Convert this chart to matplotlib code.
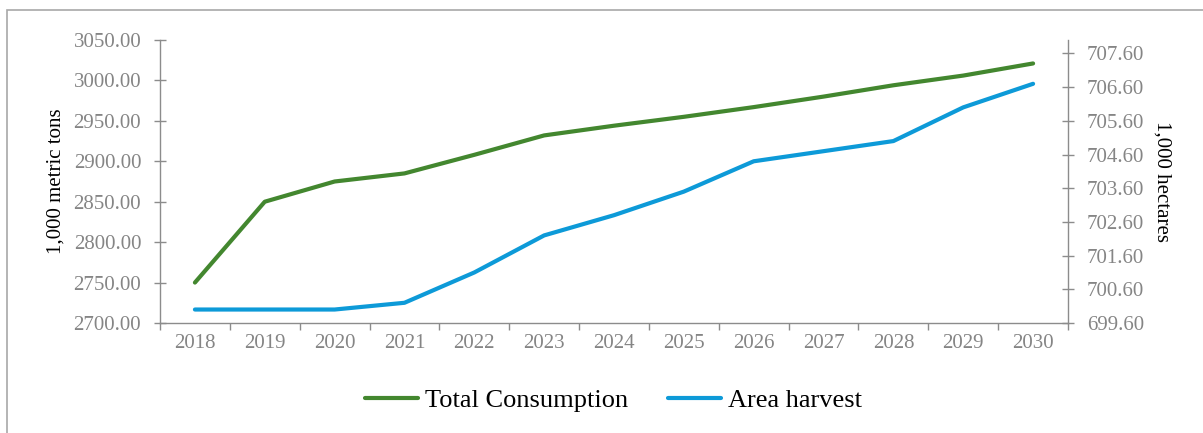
import matplotlib
matplotlib.use("Agg")
import matplotlib.pyplot as plt
from matplotlib.patches import Rectangle
from matplotlib.ticker import FixedLocator, FormatStrFormatter

plt.rcParams['font.family'] = ['Liberation Serif', 'DejaVu Serif']

years = ['2018', '2019', '2020', '2021', '2022', '2023', '2024',
         '2025', '2026', '2027', '2028', '2029', '2030']
total_consumption = [2750, 2850, 2875, 2885, 2908, 2932, 2944,
                     2955, 2967, 2980, 2994, 3006, 3021]
area_harvest = [700.0, 700.0, 700.0, 700.2, 701.1, 702.2, 702.8,
                703.5, 704.4, 704.7, 705.0, 706.0, 706.7]
left_ticks = [2700, 2750, 2800, 2850, 2900, 2950, 3000, 3050]
right_ticks = [699.6, 700.6, 701.6, 702.6, 703.6, 704.6, 705.6, 706.6, 707.6]

GREEN = '#43872F'
BLUE = '#0D9AD8'
AXIS = '#8C8C8C'
TICKTXT = '#858585'

W, H = 1203, 433
fig = plt.figure(figsize=(W / 100, H / 100), dpi=100)
fig.patch.set_facecolor('white')

# outer chart frame
fig.patches.append(Rectangle((7 / W, -0.2), 1.2, 1.2 - 10 / H,
                             transform=fig.transFigure, fill=False,
                             edgecolor='#A8A8A8', linewidth=1.2))

ax = fig.add_axes([160 / W, 1 - 323 / H, (1068 - 160) / W, (323 - 40) / H])
ax2 = ax.twinx()

x = list(range(len(years)))
l1, = ax.plot(x, total_consumption, color=GREEN, lw=3.0,
              solid_capstyle='round', solid_joinstyle='round',
              label='Total Consumption')
l2, = ax2.plot(x, area_harvest, color=BLUE, lw=3.0,
               solid_capstyle='round', solid_joinstyle='round',
               label='Area harvest')

ax.set_xlim(-0.5, len(years) - 0.5)
ax.set_ylim(2700, 3050)
ax2.set_ylim(699.6, 708.0)

# category labels centred, tick marks on category boundaries
ax.set_xticks(x)
ax.set_xticklabels(years)
ax.xaxis.set_minor_locator(FixedLocator([i - 0.5 for i in range(len(years) + 1)]))
ax.tick_params(axis='x', which='major', length=0, pad=8,
               labelsize=15, labelcolor=TICKTXT)
ax.tick_params(axis='x', which='minor', length=5, width=1.0,
               color=AXIS, direction='out')

ax.set_yticks(left_ticks)
ax.yaxis.set_major_formatter(FormatStrFormatter('%.2f'))
ax.tick_params(axis='y', direction='inout', length=9, width=1.0,
               color=AXIS, labelsize=15, labelcolor=TICKTXT, pad=9)

ax2.set_yticks(right_ticks)
ax2.yaxis.set_major_formatter(FormatStrFormatter('%.2f'))
ax2.tick_params(axis='y', direction='inout', length=9, width=1.0,
                color=AXIS, labelsize=15, labelcolor=TICKTXT, pad=9)

for a in (ax, ax2):
    a.spines['top'].set_visible(False)
    for s in ('left', 'right', 'bottom'):
        a.spines[s].set_color(AXIS)
        a.spines[s].set_linewidth(1.0)
ax.spines['right'].set_visible(False)
ax2.spines['left'].set_visible(False)
ax2.spines['bottom'].set_visible(False)

ax.set_ylabel('1,000 metric tons', fontsize=15, color='black', labelpad=6)
ax2.set_ylabel('1,000 hectares', fontsize=15, color='black',
               rotation=270, labelpad=20)

fig.legend(handles=[l1, l2], loc='center', bbox_to_anchor=(0.51, 1 - 400 / H),
           ncol=2, frameon=False, fontsize=19, handlelength=2.0,
           handletextpad=0.27, columnspacing=1.5)

fig.savefig('out.png', dpi=100)
